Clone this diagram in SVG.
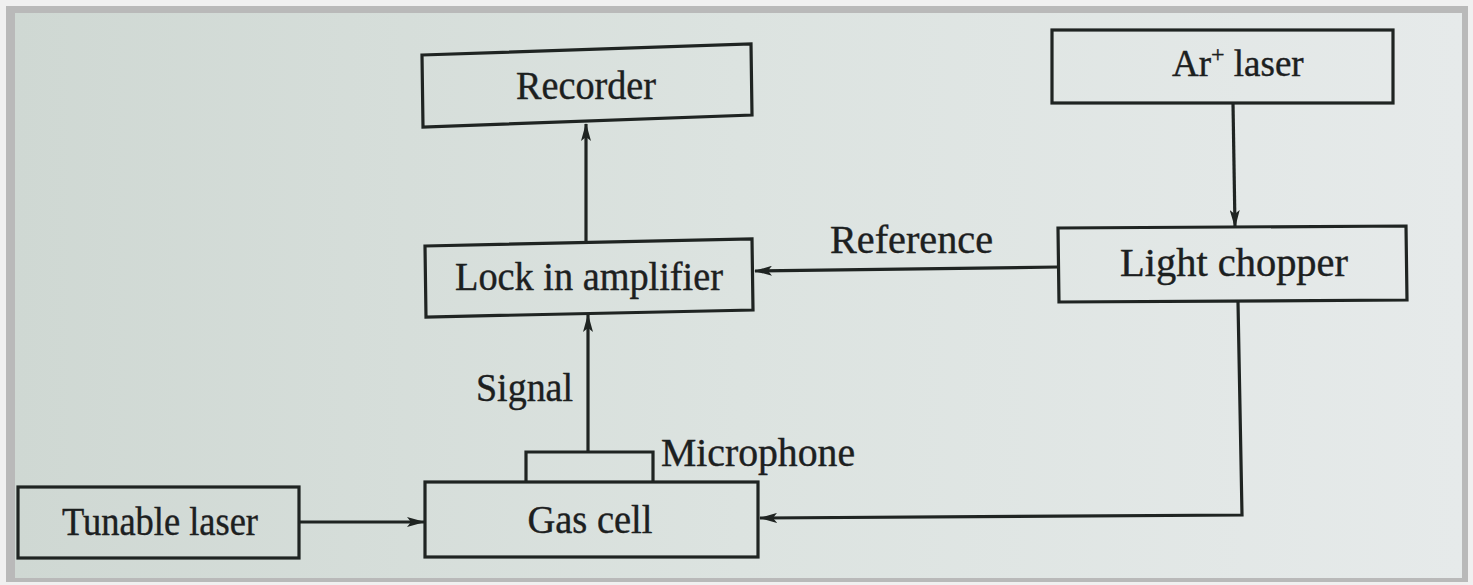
<svg xmlns="http://www.w3.org/2000/svg" width="1473" height="585" viewBox="0 0 1473 585">
<defs>
<marker id="ah" markerWidth="18" markerHeight="10" refX="17" refY="5" orient="auto" markerUnits="userSpaceOnUse">
<path d="M0,0 L18,5 L0,10 L4,5 Z" fill="#1f2422"/>
</marker>
<linearGradient id="pg" x1="0" y1="0" x2="1" y2="0">
<stop offset="0" stop-color="#cfd8d3"/>
<stop offset="0.5" stop-color="#dce3e0"/>
<stop offset="1" stop-color="#e6eaea"/>
</linearGradient>
</defs>
<style>
.box{fill:none;stroke:#1f2422;stroke-width:3.2}
.ln{fill:none;stroke:#1f2422;stroke-width:3.2}
.t{font-family:"Liberation Serif","Times New Roman",serif;font-size:39px;fill:#1c201f;stroke:#1c201f;stroke-width:0.4}
.m{text-anchor:middle}
.sup{font-size:24px}
</style>
<rect x="0" y="0" width="1473" height="585" fill="#f0f0f0"/>
<rect x="6" y="6" width="1462" height="576" fill="#b9b9b9"/>
<rect x="15" y="13" width="1447" height="565" fill="url(#pg)"/>
<g id="connectors">
<line class="ln" x1="586" y1="241" x2="586" y2="124" marker-end="url(#ah)"/>
<line class="ln" x1="1233" y1="103" x2="1235" y2="227" marker-end="url(#ah)"/>
<line class="ln" x1="1058" y1="267" x2="755" y2="271" marker-end="url(#ah)"/>
<line class="ln" x1="588" y1="452" x2="588" y2="315" marker-end="url(#ah)"/>
<line class="ln" x1="300" y1="522" x2="424" y2="522" marker-end="url(#ah)"/>
<polyline class="ln" points="1238,302 1242,515 760,518" marker-end="url(#ah)"/>
</g>
<g id="recorder">
<polygon class="box" points="422,55 751,44 752,115 423,127"/>
<text class="t m" x="586" y="99" textLength="140" lengthAdjust="spacingAndGlyphs">Recorder</text>
</g>
<g id="lockin">
<polygon class="box" points="425,246 752,239 753,310 426,317"/>
<text class="t m" x="589" y="290" textLength="268" lengthAdjust="spacingAndGlyphs">Lock in amplifier</text>
</g>
<g id="arlaser">
<rect class="box" x="1052" y="30" width="341" height="73"/>
<text class="t" x="1172" y="76" style="font-size:37px">Ar<tspan class="sup" dy="-14">+</tspan><tspan dy="14"> laser</tspan></text>
</g>
<g id="chopper">
<polygon class="box" points="1058,228 1406,226 1407,300 1059,302"/>
<text class="t m" x="1234" y="276" textLength="228" lengthAdjust="spacingAndGlyphs">Light chopper</text>
</g>
<g id="reference-label">
<text class="t" x="830" y="253" textLength="163" lengthAdjust="spacingAndGlyphs">Reference</text>
</g>
<g id="signal-label">
<text class="t" x="476" y="401" textLength="97" lengthAdjust="spacingAndGlyphs">Signal</text>
</g>
<g id="microphone">
<polyline class="box" points="526,482 526,452 653,452 653,482"/>
<text class="t" x="661" y="466" textLength="194" lengthAdjust="spacingAndGlyphs">Microphone</text>
</g>
<g id="gascell">
<rect class="box" x="425" y="482" width="333" height="75"/>
<text class="t m" x="590" y="533" textLength="125" lengthAdjust="spacingAndGlyphs">Gas cell</text>
</g>
<g id="tunable">
<rect class="box" x="18" y="487" width="281" height="71"/>
<text class="t m" x="160" y="535" textLength="196" lengthAdjust="spacingAndGlyphs">Tunable laser</text>
</g>
</svg>
